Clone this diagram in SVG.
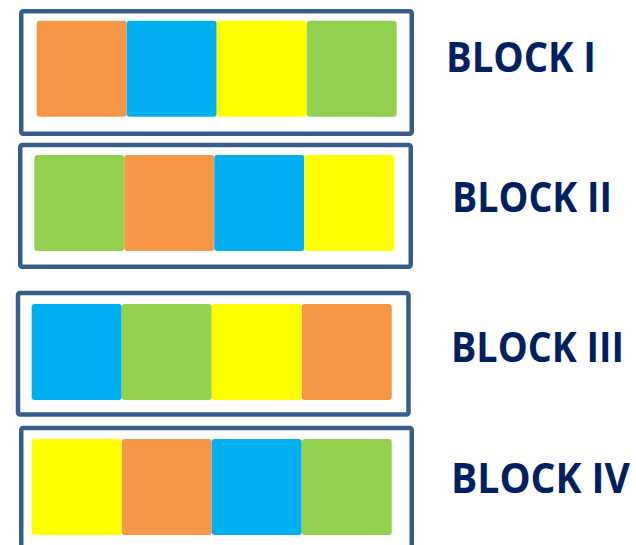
<svg xmlns="http://www.w3.org/2000/svg" width="636" height="545" viewBox="0 0 636 545">
<style>
.frame{fill:none;stroke:#385D8A;stroke-width:4.5}
.c{stroke:none}
.o{fill:#F79646}.b{fill:#00B0F0}.y{fill:#FFFF00}.g{fill:#92D050}
.lbl{font-family:"Open Sans","Liberation Sans",sans-serif;font-weight:bold;font-size:41px;fill:#002060}
</style>
<defs>
<rect id="cell" width="90" height="96" rx="3"/>
</defs>
<rect width="636" height="545" fill="#FFFFFF"/>
<g id="block1">
<rect class="frame" x="21.25" y="11.25" width="390.5" height="122.5" rx="2"/>
<use href="#cell" class="o" x="36.7" y="20.7"/>
<use href="#cell" class="b" x="126.7" y="20.7"/>
<use href="#cell" class="y" x="216.7" y="20.7"/>
<use href="#cell" class="g" x="306.7" y="20.7"/>
<text class="lbl" x="446" y="72" textLength="150" lengthAdjust="spacingAndGlyphs">BLOCK I</text>
</g>
<g id="block2">
<rect class="frame" x="20.25" y="145" width="390.5" height="121.8" rx="2"/>
<use href="#cell" class="g" x="34.3" y="155"/>
<use href="#cell" class="o" x="124.3" y="155"/>
<use href="#cell" class="b" x="214.3" y="155"/>
<use href="#cell" class="y" x="304.3" y="155"/>
<text class="lbl" x="452" y="212" textLength="160" lengthAdjust="spacingAndGlyphs">BLOCK II</text>
</g>
<g id="block3">
<rect class="frame" x="18" y="293" width="390.5" height="121.5" rx="2"/>
<use href="#cell" class="b" x="31.7" y="304"/>
<use href="#cell" class="g" x="121.7" y="304"/>
<use href="#cell" class="y" x="211.7" y="304"/>
<use href="#cell" class="o" x="301.7" y="304"/>
<text class="lbl" x="451" y="362" textLength="173" lengthAdjust="spacingAndGlyphs">BLOCK III</text>
</g>
<g id="block4">
<rect class="frame" x="21.25" y="428" width="390.5" height="122" rx="2"/>
<use href="#cell" class="y" x="31.7" y="439"/>
<use href="#cell" class="o" x="121.7" y="439"/>
<use href="#cell" class="b" x="211.7" y="439"/>
<use href="#cell" class="g" x="301.7" y="439"/>
<text class="lbl" x="451" y="493" textLength="179" lengthAdjust="spacingAndGlyphs">BLOCK IV</text>
</g>
<g id="connectors"></g>
</svg>
